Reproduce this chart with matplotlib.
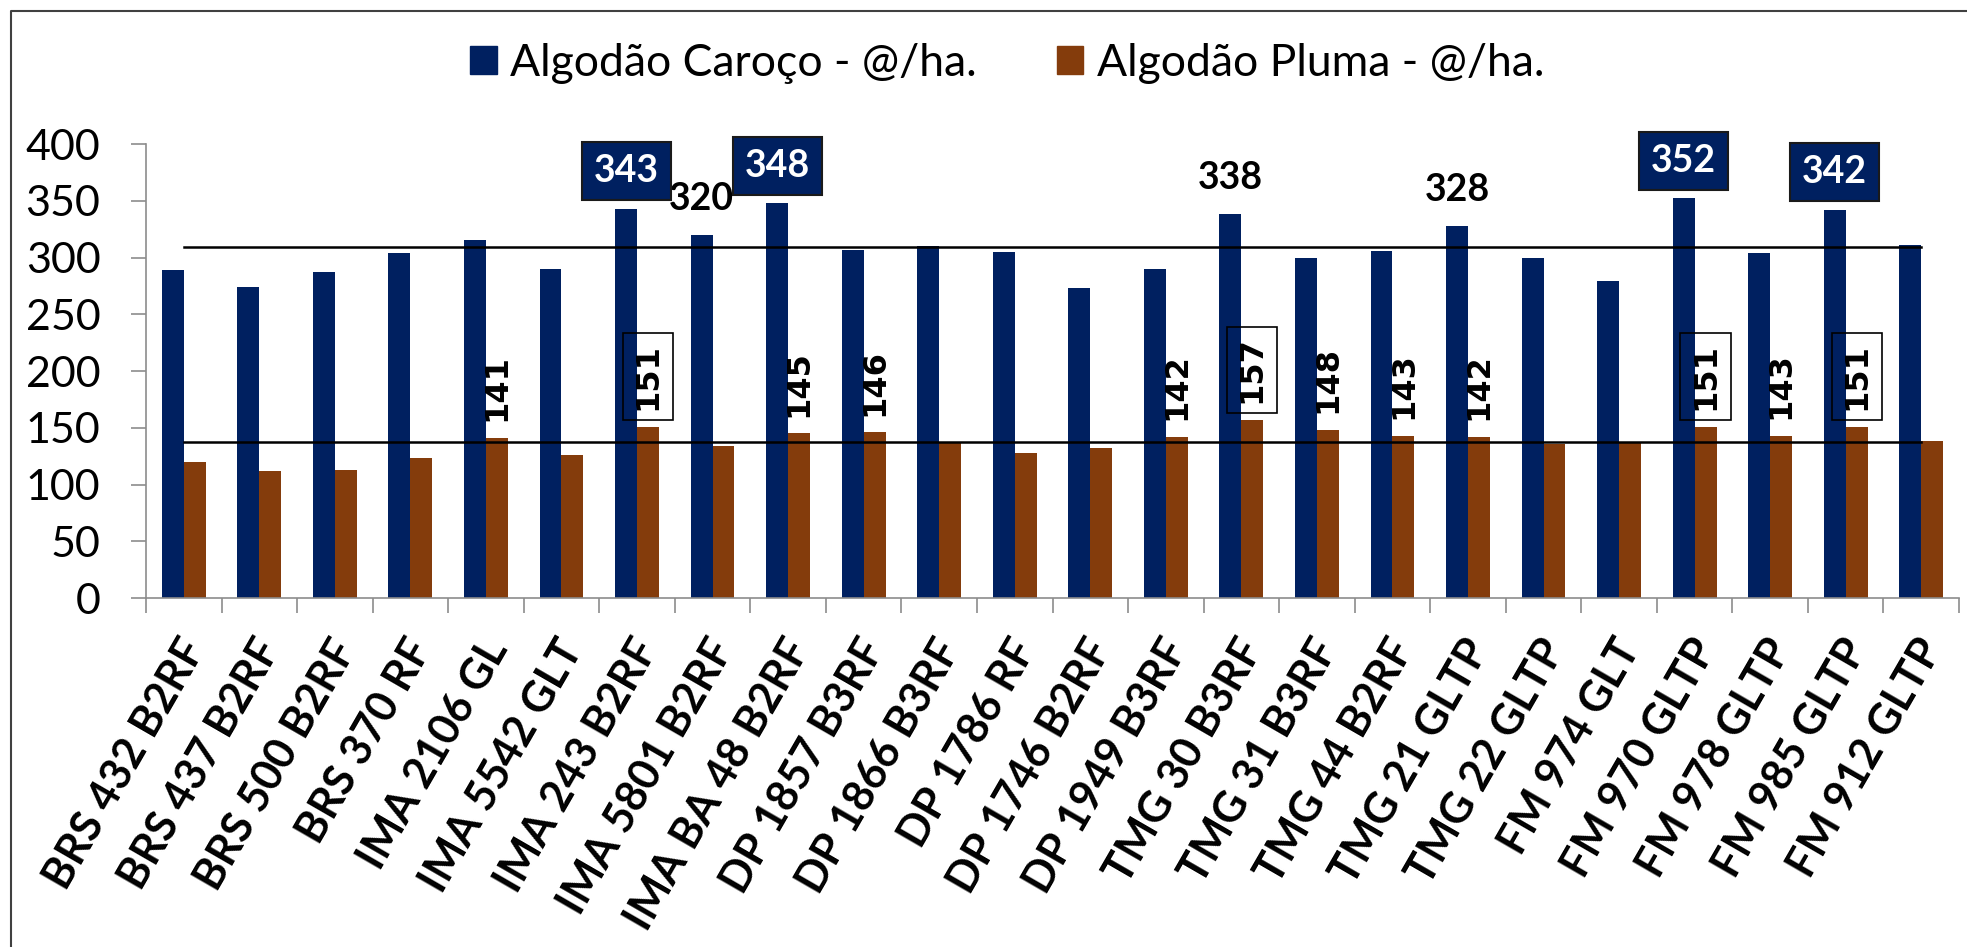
import numpy as np
import matplotlib.pyplot as plt
from matplotlib.patches import Patch
from matplotlib.lines import Line2D

cultivares = ['BRS 432 B2RF', 'BRS 437 B2RF', 'BRS 500 B2RF', 'BRS 370 RF',
              'IMA 2106 GL', 'IMA 5542 GLT', 'IMA 243 B2RF', 'IMA 5801 B2RF',
              'IMA BA 48 B2RF', 'DP 1857 B3RF', 'DP 1866 B3RF', 'DP 1786 RF',
              'DP 1746 B2RF', 'DP 1949 B3RF', 'TMG 30 B3RF', 'TMG 31 B3RF',
              'TMG 44 B2RF', 'TMG 21 GLTP', 'TMG 22 GLTP', 'FM 974 GLT',
              'FM 970 GLTP', 'FM 978 GLTP', 'FM 985 GLTP', 'FM 912 GLTP']
caroco = [289, 274, 287, 304, 315, 290, 343, 320, 348, 307, 310, 305,
          273, 290, 338, 300, 306, 328, 300, 279, 352, 304, 342, 311]
pluma = [120, 112, 113, 123, 141, 126, 151, 134, 145, 146, 137, 128,
         132, 142, 157, 148, 143, 142, 136, 137, 151, 143, 151, 138]
media_caroco = 309.5
media_pluma = 137.4

# which bars get a value label (boxed = highlighted)
destaque_caroco = [6, 8, 20, 22]
rotulo_caroco = [7, 14, 17]
destaque_pluma = [6, 14, 20, 22]
rotulo_pluma = [4, 8, 9, 13, 15, 16, 17, 21]

AZUL = '#002060'
MARROM = '#843C0C'
CINZA = '#8c8c8c'
W, H = 1967, 947

fig = plt.figure(figsize=(W / 100, H / 100), dpi=100)
ax = fig.add_axes([146 / W, 1 - 598 / H, (1959 - 146) / W, (598 - 144) / H])

x = np.arange(len(cultivares))
bw = 0.29
ax.bar(x - bw / 2, caroco, bw, color=AZUL, zorder=2)
ax.bar(x + bw / 2, pluma, bw, color=MARROM, zorder=2)

ax.plot(x, [media_caroco] * len(x), color='black', lw=1.8, zorder=3)
ax.plot(x, [media_pluma] * len(x), color='black', lw=1.8, zorder=3)

# labels on the seed cotton bars
for i in rotulo_caroco:
    ax.annotate(f'{caroco[i]}', (x[i] - bw / 2, caroco[i]), xytext=(0, 26),
                textcoords='offset points', ha='center', va='center',
                fontsize=27, fontweight='bold', family='Lato', zorder=5)
for i in destaque_caroco:
    ax.annotate(f'{caroco[i]}', (x[i] - bw / 2, caroco[i]), xytext=(0, 27),
                textcoords='offset points', ha='center', va='center',
                fontsize=27, fontweight='bold', family='Lato', color='white',
                bbox=dict(boxstyle='square,pad=0.32', fc=AZUL, ec='#1a1a1a', lw=1.5),
                zorder=5)

# labels on the lint bars (vertical)
for i in rotulo_pluma:
    ax.annotate(f'{pluma[i]}', (x[i] + bw / 2, pluma[i]), xytext=(0, 12),
                textcoords='offset points', ha='center', va='bottom',
                rotation=90, fontsize=23, fontweight='bold',
                family='DejaVu Sans', zorder=5)
for i in destaque_pluma:
    ax.annotate(f'{pluma[i]}', (x[i] + bw / 2, pluma[i]), xytext=(0, 12),
                textcoords='offset points', ha='center', va='bottom',
                rotation=90, fontsize=23, fontweight='bold',
                family='DejaVu Sans',
                bbox=dict(boxstyle='square,pad=0.3', fc='none', ec='black', lw=1.2),
                zorder=5)

ax.set_xlim(-0.5, len(x) - 0.5)
ax.set_ylim(0, 400)
ax.set_yticks(range(0, 401, 50))
# label anchors sit a little right of the category centre
ax.set_xticks(x + 0.15)
ax.set_xticklabels(cultivares, rotation=60, ha='right', va='center',
                   rotation_mode='anchor', fontsize=31, fontweight='bold',
                   family='Lato')
ax.set_xticks(np.arange(-0.5, len(x)), minor=True)
ax.tick_params(axis='x', which='major', length=0, pad=32)
ax.tick_params(axis='x', which='minor', length=10.8, width=1.2, color=CINZA)
ax.tick_params(axis='y', length=10.8, width=1.2, color=CINZA, pad=22,
               labelsize=31)
for lab in ax.get_yticklabels():
    lab.set_family('Lato')

for s in ['top', 'right']:
    ax.spines[s].set_visible(False)
for s in ['left', 'bottom']:
    ax.spines[s].set_color(CINZA)
    ax.spines[s].set_linewidth(1.2)

handles = [Patch(color=AZUL, label='Algodão Caroço - @/ha.'),
           Patch(color=MARROM, label='Algodão Pluma - @/ha.')]
fig.legend(handles=handles, loc='center', bbox_to_anchor=(1007 / W, 1 - 63 / H),
           ncol=2, frameon=False, prop={'family': 'Lato', 'size': 32},
           handlelength=0.6, handleheight=0.6, handletextpad=0.3,
           columnspacing=1.8)

# outer frame (left and top edges)
fig.add_artist(Line2D([10.5 / W, 10.5 / W, 1], [0, 1 - 11 / H, 1 - 11 / H],
                      transform=fig.transFigure, color='#404040', lw=1.5))

fig.savefig('out.png', dpi=100)
